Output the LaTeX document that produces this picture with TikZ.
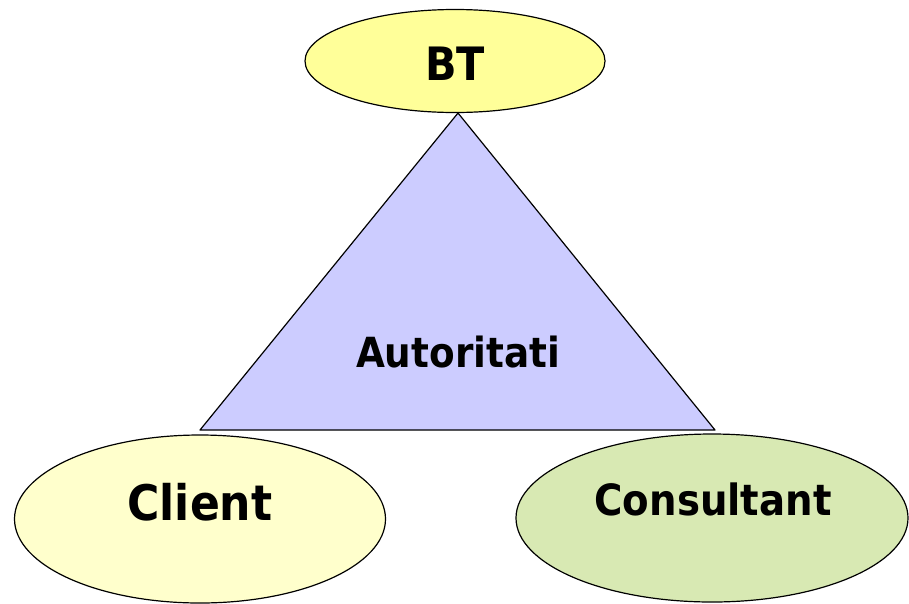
\documentclass[tikz,border=0pt]{standalone}
\usepackage{fontspec}
\setmainfont{DejaVu Sans Condensed}
\usepackage{xcolor}
\usepackage{tikz}
\usetikzlibrary{positioning, calc, shapes.geometric}
\definecolor{btyellow}{RGB}{255, 255, 153}
\definecolor{clientyellow}{RGB}{255, 255, 204}
\definecolor{consgreen}{RGB}{216, 233, 179}
\definecolor{autblue}{RGB}{204, 204, 255}

\begin{document}
\begin{tikzpicture}[x=1pt, y=-1pt,
        bubble/.style={draw=black, line width=1.2pt, ellipse, inner sep=0pt},
        lbl/.style={anchor=base, font=\bfseries, inner sep=0pt}]
        \useasboundingbox (0,0) rectangle (909,603);
        % triangle
        \coordinate (top) at (458,113);
        \coordinate (left) at (200,430);
        \coordinate (right) at (715,430);
        \draw[fill=autblue, line width=1.2pt, line join=round] (top) -- (left) -- (right) -- cycle;
        \node[lbl, font=\bfseries\fontsize{41.5}{50}\selectfont] (aut) at (458,367) {Autoritati};
        % the three parties
        \node[bubble, fill=btyellow, minimum width=300pt, minimum height=103pt] (bt) at (455,61) {};
        \node[lbl, font=\bfseries\fontsize{46}{55}\selectfont] (btlbl) at (455,80) {BT};
        \node[bubble, fill=clientyellow, minimum width=371pt, minimum height=168pt] (client) at (200,519) {};
        \node[lbl, font=\bfseries\fontsize{49}{58}\selectfont] (clientlbl) at (200,520) {Client};
        \node[bubble, fill=consgreen, minimum width=392pt, minimum height=168pt] (cons) at (712,518) {};
        \node[lbl, font=\bfseries\fontsize{43}{52}\selectfont] (conslbl) at (713,515) {Consultant};
    \end{tikzpicture}
\end{document}
